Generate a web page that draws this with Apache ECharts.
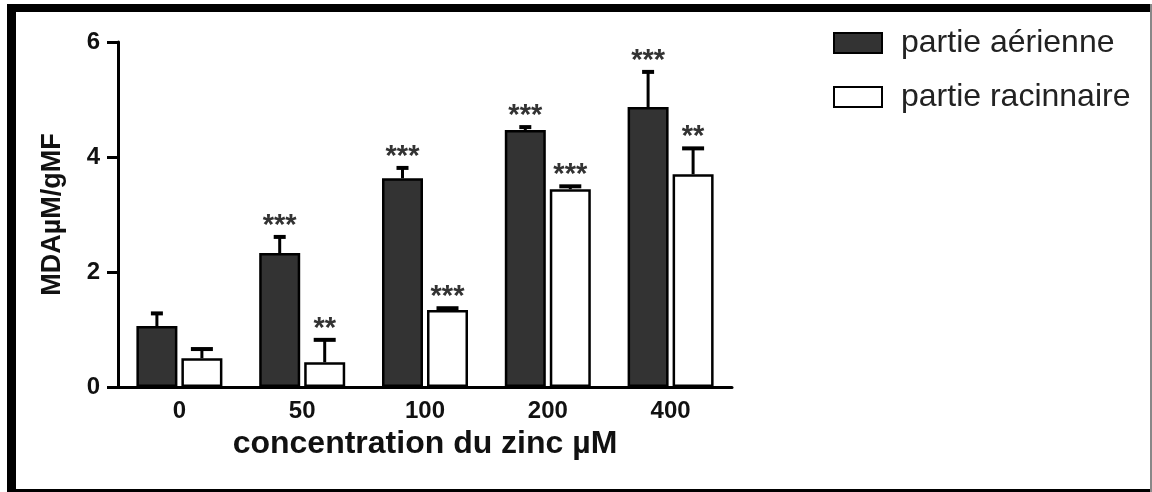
<!DOCTYPE html>
<html>
<head>
<meta charset="utf-8">
<script src="https://cdn.jsdelivr.net/npm/echarts@6/dist/echarts.min.js"></script>
<style>
  html, body { margin: 0; padding: 0; background: #fff; }
  #chart { width: 1152px; height: 492px; }
</style>
</head>
<body>
<div id="chart"></div>
<script>
// valeurs
const categories = ['0', '50', '100', '200', '400'];
const aerienne = [1.06, 2.33, 3.63, 4.47, 4.87];
const aerienneErr = [0.22, 0.28, 0.18, 0.05, 0.61];
const racinnaire = [0.50, 0.43, 1.34, 3.44, 3.70];
const racinnaireErr = [0.16, 0.39, 0.03, 0.05, 0.45];
const aerienneStars = ['', '***', '***', '***', '***'];
const racinnaireStars = ['', '**', '***', '***', '**'];
const yTicks = [0, 2, 4, 6];

const FONT = '"Liberation Sans", Arial, sans-serif';
const BAR_W = 41;
const GAP = 4;

// barre d'erreur (vers le haut) + étoiles
function errorSeries(id, vals, errs, stars, side, capW) {
  return {
    type: 'custom',
    name: id,
    z: 5,
    silent: true,
    data: vals.map((v, i) => [i, v, v + errs[i]]),
    renderItem: function (params, api) {
      const base = api.coord([api.value(0), api.value(1)]);
      const top = api.coord([api.value(0), api.value(2)]);
      const x = base[0] + side * (BAR_W + GAP) / 2;
      const children = [
        { type: 'line', shape: { x1: x, y1: base[1], x2: x, y2: top[1] }, style: { stroke: '#000', lineWidth: 3 } },
        { type: 'line', shape: { x1: x - capW / 2, y1: top[1], x2: x + capW / 2, y2: top[1] }, style: { stroke: '#000', lineWidth: 4 } }
      ];
      const s = stars[params.dataIndex];
      if (s) {
        children.push({
          type: 'text',
          style: { text: s, x: x, y: top[1] - 11, align: 'center', verticalAlign: 'middle', font: 'bold 29px ' + FONT, fill: '#333' }
        });
      }
      return { type: 'group', children: children };
    }
  };
}

const chart = echarts.init(document.getElementById('chart'));
chart.setOption({
  backgroundColor: '#fff',
  animation: false,
  grid: { left: 118, right: 420, top: 42, bottom: 105 },
  legend: {
    orient: 'vertical',
    left: 828,
    top: 22,
    icon: 'rect',
    itemWidth: 48,
    itemHeight: 20,
    itemGap: 22,
    data: ['partie aérienne', 'partie racinnaire'],
    textStyle: { fontSize: 32, color: '#222', fontFamily: FONT, padding: [0, 0, 0, 14] }
  },
  xAxis: {
    type: 'category',
    data: categories,
    name: 'concentration du zinc µM',
    nameLocation: 'middle',
    nameGap: 40,
    nameTextStyle: { fontSize: 32, fontWeight: 'bold', color: '#111', fontFamily: FONT },
    axisLine: { lineStyle: { color: '#000', width: 3 } },
    axisTick: { show: false },
    axisLabel: { margin: 12, fontSize: 24, fontWeight: 'bold', color: '#111', fontFamily: FONT },
    splitLine: { show: false }
  },
  yAxis: {
    type: 'value',
    min: yTicks[0],
    max: yTicks[yTicks.length - 1],
    interval: 2,
    name: 'MDAµM/gMF',
    nameLocation: 'middle',
    nameGap: 52,
    nameTextStyle: { fontSize: 27, fontWeight: 'bold', color: '#111', fontFamily: FONT },
    axisLine: { show: true, lineStyle: { color: '#000', width: 3 } },
    axisTick: { show: true, length: 11, lineStyle: { color: '#000', width: 3 } },
    axisLabel: { margin: 18, fontSize: 24, fontWeight: 'bold', color: '#111', fontFamily: FONT },
    splitLine: { show: false }
  },
  series: [
    {
      name: 'partie aérienne',
      type: 'bar',
      barWidth: BAR_W,
      barGap: (GAP / BAR_W * 100) + '%',
      data: aerienne,
      itemStyle: { color: '#333333', borderColor: '#000', borderWidth: 2.5 }
    },
    {
      name: 'partie racinnaire',
      type: 'bar',
      barWidth: BAR_W,
      data: racinnaire,
      itemStyle: { color: '#ffffff', borderColor: '#000', borderWidth: 2.5 }
    },
    errorSeries('err-aer', aerienne, aerienneErr, aerienneStars, -1, 12),
    errorSeries('err-rac', racinnaire, racinnaireErr, racinnaireStars, 1, 22)
  ],
  graphic: [
    // cadre noir
    { type: 'rect', shape: { x: 7, y: 4, width: 1145, height: 8 }, style: { fill: '#000' }, z: 100 },
    { type: 'rect', shape: { x: 7, y: 4, width: 9, height: 488 }, style: { fill: '#000' }, z: 100 },
    { type: 'rect', shape: { x: 7, y: 489, width: 1145, height: 3 }, style: { fill: '#000' }, z: 100 },
    { type: 'rect', shape: { x: 1150, y: 4, width: 2, height: 488 }, style: { fill: '#888' }, z: 100 }
  ]
});
</script>
</body>
</html>
